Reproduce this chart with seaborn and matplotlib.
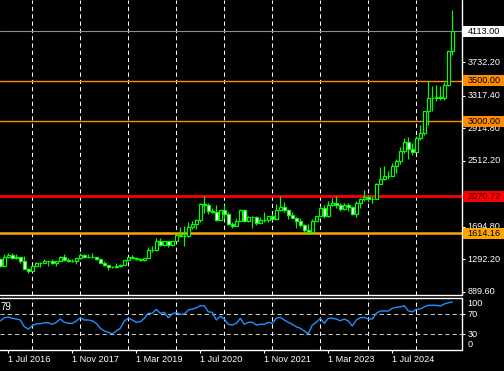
import numpy as np
import pandas as pd
import matplotlib
matplotlib.use("Agg")
import matplotlib.pyplot as plt
import seaborn as sns
from matplotlib.patches import Rectangle

# ---------------- data (monthly candles, May 2016 .. Oct 2025) ----------------
opens = [1293, 1215, 1322, 1351, 1309, 1316, 1277, 1173,
         1151, 1211, 1249, 1249, 1268, 1268, 1242, 1269, 1322, 1280, 1271, 1275,
         1303, 1345, 1318, 1325, 1315, 1298, 1253, 1224, 1201, 1192, 1215, 1222,
         1282, 1321, 1313, 1292, 1284, 1305, 1409, 1413, 1520, 1472, 1513, 1464,
         1517, 1589, 1585, 1577, 1686, 1730, 1781, 1975, 1968, 1886, 1878, 1777,
         1898, 1848, 1733, 1708, 1769, 1906, 1770, 1814, 1814, 1743, 1783, 1775,
         1829, 1796, 1908, 1937, 1897, 1837, 1807, 1766, 1711, 1660, 1633, 1768,
         1824, 1928, 1827, 1969, 1990, 1962, 1919, 1965, 1940, 1849, 1983, 2036,
         2063, 2039, 2044, 2230, 2286, 2327, 2326, 2447, 2503, 2634, 2743, 2653,
         2624, 2798, 2857, 3123, 3289, 3289, 3303, 3290, 3448, 3866]
highs = [1303, 1362, 1375, 1367, 1353, 1326, 1337, 1182,
         1220, 1264, 1262, 1296, 1270, 1296, 1275, 1331, 1357, 1306, 1299, 1309,
         1366, 1362, 1356, 1365, 1326, 1310, 1266, 1223, 1214, 1243, 1237, 1284,
         1326, 1347, 1324, 1310, 1306, 1439, 1453, 1555, 1557, 1517, 1515, 1524,
         1611, 1689, 1704, 1748, 1765, 1786, 1984, 2075, 1992, 1933, 1966, 1906,
         1959, 1872, 1756, 1798, 1913, 1916, 1833, 1832, 1834, 1813, 1877, 1831,
         1853, 1974, 2070, 1998, 1910, 1879, 1814, 1808, 1735, 1730, 1786, 1833,
         1949, 1959, 2009, 2049, 2079, 1984, 1987, 1987, 1953, 2009, 2052, 2146,
         2088, 2065, 2236, 2431, 2450, 2388, 2483, 2531, 2685, 2790, 2801, 2726,
         2817, 2956, 3128, 3500, 3435, 3452, 3439, 3489, 3870, 4381]
lows = [1199, 1200, 1310, 1301, 1302, 1241, 1171, 1122,
        1146, 1206, 1195, 1242, 1214, 1236, 1205, 1266, 1275, 1260, 1263, 1236,
        1302, 1307, 1303, 1310, 1281, 1245, 1211, 1160, 1180, 1183, 1196, 1221,
        1276, 1311, 1281, 1266, 1266, 1305, 1382, 1400, 1459, 1459, 1446, 1454,
        1517, 1563, 1451, 1567, 1670, 1671, 1757, 1863, 1849, 1860, 1764, 1775,
        1802, 1717, 1677, 1706, 1766, 1750, 1751, 1683, 1721, 1740, 1760, 1753,
        1780, 1781, 1890, 1872, 1787, 1805, 1681, 1688, 1615, 1617, 1616, 1765,
        1823, 1804, 1810, 1949, 1932, 1893, 1903, 1884, 1846, 1810, 1932, 2016,
        2001, 1984, 2039, 2228, 2277, 2286, 2318, 2364, 2471, 2603, 2536, 2583,
        2614, 2772, 2832, 2957, 3121, 3245, 3268, 3268, 3436, 3820]
closes = [1215, 1322, 1351, 1309, 1316, 1277, 1173, 1151,
          1211, 1249, 1249, 1268, 1268, 1242, 1269, 1322, 1280, 1271, 1275, 1303,
          1345, 1318, 1325, 1315, 1298, 1253, 1224, 1201, 1192, 1215, 1222, 1282,
          1321, 1313, 1292, 1284, 1305, 1409, 1413, 1520, 1472, 1513, 1464, 1517,
          1589, 1585, 1577, 1686, 1730, 1781, 1975, 1968, 1886, 1878, 1777, 1898,
          1848, 1733, 1708, 1769, 1906, 1770, 1814, 1814, 1743, 1783, 1775, 1829,
          1796, 1908, 1937, 1897, 1837, 1807, 1766, 1711, 1660, 1633, 1768, 1824,
          1928, 1827, 1969, 1990, 1962, 1919, 1965, 1940, 1849, 1983, 2036, 2063,
          2039, 2044, 2230, 2286, 2327, 2326, 2447, 2503, 2634, 2743, 2653, 2624,
          2798, 2857, 3123, 3289, 3289, 3303, 3290, 3448, 3866, 4113]
rsi = [57, 63, 64.6, 62, 60.6, 58.6, 45, 40.6,
       47, 51, 51, 53, 53, 50, 54, 60.6, 54, 52, 52, 56.6,
       63, 58.6, 58.6, 57, 52, 42, 36.6, 34, 31, 36.6, 42, 56.6,
       62, 58.6, 54, 55.3, 62, 72, 72, 80, 72, 74, 63, 70.6,
       74, 70, 70.6, 78.6, 80.6, 83, 87, 87, 75, 74, 58.6, 66,
       60.6, 50, 48.6, 52, 62, 50, 54, 54, 48.6, 50, 50, 54,
       52, 62, 64, 58.6, 54, 50, 45, 42, 36.6, 31, 48.6, 54,
       62, 52, 62, 62, 60.6, 57, 60.6, 56.6, 46.6, 58.6, 63, 64,
       60.6, 60.6, 72, 76.6, 76.6, 76.6, 82, 84, 85, 87, 77, 75,
       80, 80.6, 85, 88, 88, 88, 86.6, 90.6, 93, 94.6]

date_labels = ['1 Jul 2016', '1 Nov 2017', '1 Mar 2019', '1 Jul 2020',
               '1 Nov 2021', '1 Mar 2023', '1 Jul 2024']
date_idx = [2, 18, 34, 50, 66, 82, 98]
year_idx = [8, 20, 32, 44, 56, 68, 80, 92, 104]
price_ticks = [3732.20, 3317.40, 2914.80, 2512.20, 1694.80, 1292.20, 889.60]
bid_price = 4113.00
level_prices = [3500.00, 3000.00, 2070.72, 1614.16]
rsi_levels = [70, 30]
rsi_ticks = [100, 70, 30, 0]
rsi_value_label = '79'

# ---------------- style ----------------
sns.set_theme(style='dark', rc={'axes.facecolor': 'black', 'figure.facecolor': 'black'})
plt.rcParams['font.family'] = ['Liberation Sans', 'DejaVu Sans']

W, H = 504, 371
fig = plt.figure(figsize=(W / 100, H / 100), dpi=100, facecolor='black')
ax = fig.add_axes([0, 1 - 295 / H, 461.5 / W, 295 / H])
ax2 = fig.add_axes([0, 1 - 350 / H, 461.5 / W, 52 / H])

df = pd.DataFrame({'m': np.arange(len(closes)), 'open': opens, 'high': highs,
                   'low': lows, 'close': closes, 'rsi': rsi})

LIME = '#00ff00'
FS = 6.6
grid_ls = (0, (4, 3))

for a in (ax, ax2):
    a.set_facecolor('black')
    a.set_xlim(-0.08, 115.3)
    for s in a.spines.values():
        s.set_visible(False)
    a.set_xticks([])
    a.set_yticks([])
    for yi in year_idx:
        a.axvline(yi, color='white', lw=0.75, ls=grid_ls, zorder=1)

# ---- candles ----
ax.set_ylim(851, 4500)
ax.vlines(df['m'], df['low'], df['high'], color=LIME, lw=0.85, zorder=3)
bull = df['close'] >= df['open']
bottoms = np.minimum(df['open'], df['close'])
heights = np.abs(df['close'] - df['open'])
ax.bar(df['m'][bull], heights[bull], bottom=bottoms[bull], width=0.62,
       color='black', edgecolor=LIME, linewidth=0.85, zorder=4)
ax.bar(df['m'][~bull], heights[~bull], bottom=bottoms[~bull], width=0.62,
       color='white', edgecolor=LIME, linewidth=0.85, zorder=4)

# ---- horizontal lines ----
ax.axhline(bid_price, color='#8e8e98', lw=0.8, zorder=2)
line_styles = {3500.00: ('#ff8c00', 1.0), 3000.00: ('#ff8c00', 1.0),
               2070.72: ('#ff0000', 2.0), 1614.16: ('#ffa500', 1.8)}
for p in level_prices:
    c, lw = line_styles[p]
    ax.axhline(p, color=c, lw=lw, zorder=2)

# ---- right price scale ----
ytr = ax.get_yaxis_transform()
ax.hlines(price_ticks, 1.0, 1.0 + 3 / 461.5, transform=ytr, colors='white', lw=0.8, clip_on=False)
for p in price_ticks:
    ax.text(1.0 + 6 / 461.5, p, f'{p:.2f}', transform=ytr, ha='left', va='center',
            color='white', fontsize=FS, clip_on=False, zorder=3)

box_styles = {bid_price: ('white', 'black'), 3500.00: ('#ff8c00', 'black'),
              3000.00: ('#ff8c00', 'black'), 2070.72: ('#ff0000', '#300000'),
              1614.16: ('#ffa500', 'black')}
px = 12.37  # price units per pixel (layout only)
for p in [bid_price] + level_prices:
    fc, tc = box_styles[p]
    ax.add_patch(Rectangle((1.0 + 1.5 / 461.5, p - 5.5 * px), 45 / 461.5, 11 * px,
                           transform=ytr, facecolor=fc, edgecolor='none',
                           clip_on=False, zorder=6))
    ax.text(1.0 + 6 / 461.5, p, f'{p:.2f}', transform=ytr, ha='left', va='center',
            color=tc, fontsize=FS, clip_on=False, zorder=7)

# ---- RSI window ----
ax2.set_ylim(-1.4, 102.6)
sns.lineplot(data=df, x='m', y='rsi', ax=ax2, color='#1e90ff', lw=1.0, zorder=4)
ax2.set_xlabel('')
ax2.set_ylabel('')
ax2.set_xticks([])
ax2.set_yticks([])
ax2.set_xlim(-0.08, 115.3)
for lv in rsi_levels:
    ax2.axhline(lv, color='#c8c8c8', lw=0.75, ls=grid_ls, zorder=2)
ytr2 = ax2.get_yaxis_transform()
vas = {100: 'top', 70: 'center', 30: 'center', 0: 'bottom'}
for t in rsi_ticks:
    ax2.text(1.0 + 6 / 461.5, t, str(t), transform=ytr2, ha='left', va=vas[t],
             color='white', fontsize=FS, clip_on=False)
ax2.hlines(rsi_levels, 1.0, 1.0 + 3 / 461.5, transform=ytr2, colors='white', lw=0.8, clip_on=False)
ax2.text(0.0, 1 - 9.5 / 52, rsi_value_label, transform=ax2.transAxes, ha='left', va='center',
         color='white', fontsize=FS + 0.4)

# ---- frame lines ----
ax.plot([1, 1], [0, 1], transform=ax.transAxes, color='white', lw=1.0, clip_on=False)
ax.plot([0, 1], [0, 0], transform=ax.transAxes, color='white', lw=1.0, clip_on=False)
ax2.plot([1, 1], [0, 1], transform=ax2.transAxes, color='white', lw=1.0, clip_on=False)
ax2.plot([0, 1], [1, 1], transform=ax2.transAxes, color='white', lw=1.0, clip_on=False)
ax2.plot([0, 1], [0, 0], transform=ax2.transAxes, color='white', lw=1.0, clip_on=False)

# ---- time axis ----
xtr = ax2.get_xaxis_transform()
ax2.vlines(date_idx, -3 / 52, 0, transform=xtr, colors='white', lw=0.8, clip_on=False)
for lab, i in zip(date_labels, date_idx):
    ax2.text(i - 0.2, -9 / 52, lab, transform=xtr, ha='left', va='center',
             color='white', fontsize=FS, clip_on=False)

fig.savefig('out.png', dpi=100, facecolor='black')
